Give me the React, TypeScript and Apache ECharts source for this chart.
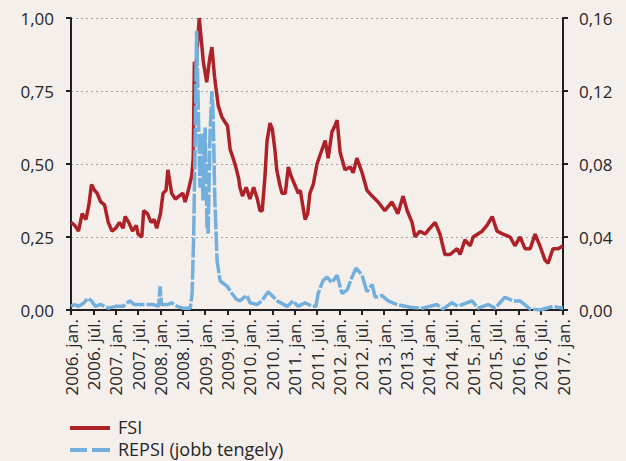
import React, { useEffect, useRef } from "react";
import * as echarts from "echarts";

// Month offsets since 2006 January (x position)
const fsiMonths = [0, 1, 2, 3, 4, 4.8, 5.5, 6.3, 7, 8, 9, 10, 11, 12, 13, 14, 14.5, 15.5, 16.5, 17.5, 18, 19, 19.5, 20.5, 21.5, 22.3, 23, 24, 24.7, 25.5, 26, 26.5, 27, 28, 29, 30, 30.6, 31.3, 32.4, 32.8, 33.1, 33.5, 34.4, 35, 35.5, 36.4, 37.2, 37.8, 38.5, 39.5, 40.5, 42, 42.7, 44, 45, 45.3, 46, 47, 48, 49, 50, 50.7, 51.3, 52, 52.6, 53.4, 54, 54.7, 55.2, 56, 56.6, 57.5, 58.3, 59, 60, 61, 61.5, 62.8, 63.5, 64.1, 65, 66, 66.8, 68.2, 69, 70, 70.8, 71.4, 72.2, 73.5, 74.9, 75.7, 76.7, 78.1, 79.4, 80.8, 82.4, 84.2, 86.1, 87.7, 89.1, 90.2, 91.5, 92.3, 93.6, 95, 96.3, 97.7, 99, 100.3, 101.7, 103.6, 104.4, 105.7, 107.1, 107.9, 110.3, 111.6, 113, 114.3, 115.9, 117.8, 119.1, 120.5, 121.8, 123.2, 124.5, 125.8, 127.2, 128, 129.3, 130.7, 132];
const fsiValues = [0.30, 0.29, 0.27, 0.33, 0.31, 0.36, 0.43, 0.41, 0.40, 0.37, 0.36, 0.30, 0.27, 0.28, 0.30, 0.28, 0.32, 0.30, 0.27, 0.29, 0.26, 0.25, 0.34, 0.33, 0.30, 0.31, 0.28, 0.33, 0.40, 0.41, 0.48, 0.44, 0.40, 0.38, 0.39, 0.40, 0.37, 0.40, 0.46, 0.52, 0.85, 0.82, 1.00, 0.92, 0.85, 0.78, 0.86, 0.90, 0.80, 0.70, 0.66, 0.63, 0.55, 0.50, 0.45, 0.42, 0.39, 0.42, 0.38, 0.42, 0.38, 0.34, 0.34, 0.45, 0.58, 0.64, 0.62, 0.55, 0.48, 0.43, 0.40, 0.40, 0.49, 0.46, 0.43, 0.40, 0.41, 0.31, 0.33, 0.40, 0.43, 0.50, 0.53, 0.58, 0.52, 0.61, 0.63, 0.65, 0.54, 0.48, 0.49, 0.47, 0.52, 0.47, 0.41, 0.39, 0.37, 0.34, 0.37, 0.33, 0.39, 0.34, 0.30, 0.25, 0.27, 0.26, 0.28, 0.30, 0.26, 0.19, 0.19, 0.21, 0.19, 0.24, 0.22, 0.25, 0.27, 0.29, 0.32, 0.27, 0.26, 0.25, 0.22, 0.25, 0.21, 0.21, 0.26, 0.22, 0.17, 0.16, 0.21, 0.21, 0.22];

const repsiMonths = [0, 1, 2, 3.5, 4.5, 5.5, 6.5, 8, 10, 12, 14, 15.8, 17, 20, 22, 23.5, 23.9, 24.3, 26, 27, 28.5, 30, 32, 32.5, 32.9, 33.3, 33.7, 34.1, 34.6, 35.1, 35.4, 36, 36.5, 36.8, 37.3, 37.8, 38.1, 38.6, 39.2, 40, 41.9, 43.2, 44.3, 45.3, 47.2, 48, 49.9, 51.2, 52.9, 55.3, 58, 59.6, 60.9, 62.8, 64.7, 65.7, 66.3, 67.6, 68.7, 70, 71.4, 72.7, 74.1, 75.4, 76.5, 78.1, 79.4, 80.8, 81.6, 83.4, 85.1, 87.5, 91, 94.4, 98.2, 99.8, 102.2, 103.8, 107.6, 109.2, 111.9, 113.8, 116.4, 118.6, 120.5, 123.2, 125.8, 129.3, 132];
const repsiValues = [0.002, 0.003, 0.002, 0.004, 0.0065, 0.005, 0.002, 0.003, 0.001, 0.002, 0.002, 0.005, 0.003, 0.003, 0.003, 0.002, 0.013, 0.003, 0.003, 0.004, 0.002, 0.001, 0.001, 0.009, 0.04, 0.09, 0.153, 0.115, 0.067, 0.097, 0.06, 0.1, 0.045, 0.042, 0.097, 0.12, 0.11, 0.06, 0.027, 0.016, 0.013, 0.009, 0.006, 0.005, 0.008, 0.004, 0.003, 0.005, 0.01, 0.005, 0.002, 0.005, 0.002, 0.004, 0.002, 0.002, 0.009, 0.016, 0.018, 0.015, 0.019, 0.009, 0.011, 0.018, 0.023, 0.019, 0.01, 0.014, 0.007, 0.008, 0.005, 0.003, 0.0015, 0.001, 0.003, 0.0005, 0.004, 0.002, 0.005, 0.001, 0.003, 0.001, 0.007, 0.005, 0.005, 0.0005, 0.0, 0.002, 0.001];

const seriesNames = ["FSI", "REPSI (jobb tengely)"];
const startYear = 2006;
const monthLabels = ["jan.", "júl."];

const FONT = "'Open Sans', sans-serif";
const TEXT = "#262626";
const RED = "#AE2126";
const BLUE = "#72AFDD";

export default function App() {
  const ref = useRef<HTMLDivElement>(null);
  useEffect(() => {
    if (!ref.current) return;
    const chart = echarts.init(ref.current, null, { renderer: "svg" });
    const fmt = (v: number) => v.toFixed(2).replace(".", ",");
    chart.setOption({
      animation: false,
      backgroundColor: "#F5EFEC",
      textStyle: { fontFamily: FONT },
      grid: { left: 71, right: 63, top: 18, bottom: 151, containLabel: false },
      graphic: [
        { type: "line", shape: { x1: 70, y1: 428, x2: 110, y2: 428 }, style: { stroke: RED, lineWidth: 4 } },
        { type: "line", shape: { x1: 70, y1: 450, x2: 87, y2: 450 }, style: { stroke: BLUE, lineWidth: 4 } },
        { type: "line", shape: { x1: 92, y1: 450, x2: 110, y2: 450 }, style: { stroke: BLUE, lineWidth: 4 } },
        {
          type: "text",
          x: 118,
          y: 427,
          style: { text: seriesNames[0], fill: TEXT, font: `18px ${FONT}`, lineHeight: 20, verticalAlign: "middle" },
        },
        {
          type: "text",
          x: 118,
          y: 449,
          style: { text: seriesNames[1], fill: TEXT, font: `18px ${FONT}`, lineHeight: 20, verticalAlign: "middle" },
        },
      ],
      xAxis: {
        type: "value",
        min: 0,
        max: 132,
        interval: 6,
        axisLine: { show: true, lineStyle: { color: "#231F20", width: 2 } },
        axisTick: { show: true, length: 5, lineStyle: { color: "#231F20", width: 2 } },
        splitLine: { show: false },
        axisLabel: {
          rotate: 90,
          margin: 9,
          fontFamily: FONT,
          fontSize: 17,
          color: TEXT,
          formatter: (v: number) =>
            `${startYear + Math.floor(v / 12)}. ${monthLabels[Math.round(v % 12) === 0 ? 0 : 1]}`,
        },
      },
      yAxis: [
        {
          type: "value",
          min: 0,
          max: 1,
          interval: 0.25,
          position: "left",
          axisLine: { show: true, lineStyle: { color: "#231F20", width: 2 } },
          axisTick: { show: true, length: 5, lineStyle: { color: "#231F20", width: 2 } },
          splitLine: { show: true, lineStyle: { color: "#A6A6A6", width: 1.2, type: [2, 3] } },
          axisLabel: { margin: 17, fontFamily: FONT, fontSize: 17, color: TEXT, formatter: fmt },
        },
        {
          type: "value",
          min: 0,
          max: 0.16,
          interval: 0.04,
          position: "right",
          axisLine: { show: true, lineStyle: { color: "#231F20", width: 2 } },
          axisTick: { show: true, length: 5, lineStyle: { color: "#231F20", width: 2 } },
          splitLine: { show: false },
          axisLabel: { margin: 16, fontFamily: FONT, fontSize: 17, color: TEXT, formatter: fmt },
        },
      ],
      series: [
        {
          name: seriesNames[0],
          type: "line",
          yAxisIndex: 0,
          showSymbol: false,
          symbol: "none",
          data: fsiMonths.map((m, i) => [m, fsiValues[i]]),
          lineStyle: { color: RED, width: 3.5 },
          itemStyle: { color: RED },
        },
        {
          name: seriesNames[1],
          type: "line",
          yAxisIndex: 1,
          showSymbol: false,
          symbol: "none",
          data: repsiMonths.map((m, i) => [m, repsiValues[i]]),
          lineStyle: { color: BLUE, width: 3.5, type: [20, 2] },
          itemStyle: { color: BLUE },
        },
      ],
    });
    return () => chart.dispose();
  }, []);
  return (
    <div
      ref={ref}
      style={{ position: "fixed", left: 0, top: 0, width: 626, height: 461 }}
    />
  );
}
